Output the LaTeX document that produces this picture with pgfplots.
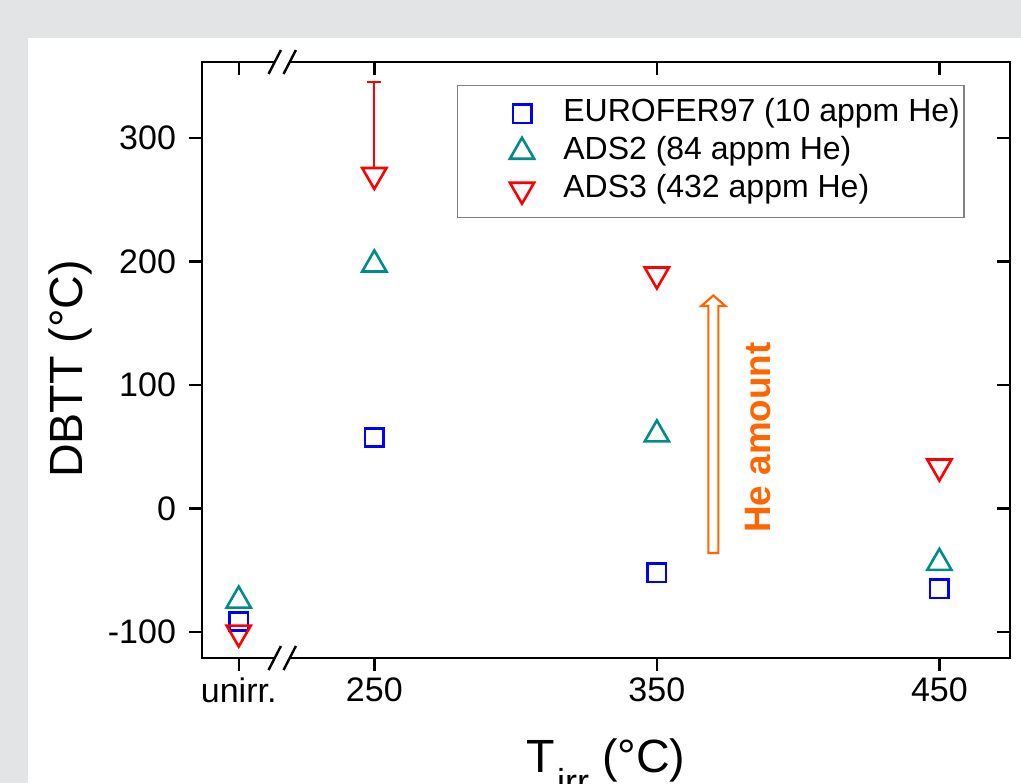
\documentclass[border=0pt]{standalone}
\usepackage{pgfplots}
\pgfplotsset{compat=1.18}
\usepackage{fontspec}
\setmainfont{Liberation Sans}
\definecolor{bggray}{RGB}{227,228,230}
\definecolor{eblue}{RGB}{0,0,255}
\definecolor{ateal}{RGB}{0,140,140}
\definecolor{ared}{RGB}{255,0,0}
\definecolor{heorange}{RGB}{255,102,0}
\definecolor{leggray}{RGB}{130,130,130}
\newcommand{\brk}[1]{%
 \fill[white] ([xshift=-4.58pt,yshift=-1.6pt]axis cs:217.4,#1) -- ([xshift=-2.92pt,yshift=1.6pt]axis cs:217.4,#1) -- ([xshift=4.58pt,yshift=1.6pt]axis cs:217.4,#1) -- ([xshift=2.92pt,yshift=-1.6pt]axis cs:217.4,#1) -- cycle;
 \draw[line width=1.2pt] ([xshift=-6.85pt,yshift=-6pt]axis cs:217.4,#1) -- ([xshift=-0.65pt,yshift=6pt]axis cs:217.4,#1);
 \draw[line width=1.2pt] ([xshift=0.65pt,yshift=-6pt]axis cs:217.4,#1) -- ([xshift=6.85pt,yshift=6pt]axis cs:217.4,#1);}
\begin{document}
\begin{tikzpicture}
\path[use as bounding box] (-101pt,-62.5pt) rectangle (409.5pt,329pt);
\clip (-101pt,-62.5pt) rectangle (409.5pt,329pt);
\fill[bggray] (-101pt,-62.5pt) rectangle (409.5pt,329pt);
\fill[white] (-87pt,-62.5pt) rectangle (409.5pt,310pt);
\begin{axis}[
  at={(0,0)}, anchor=south west,
  scale only axis, width=404pt, height=298pt,
  xmin=189, xmax=475, ymin=-121, ymax=361.5,
  axis line style={line width=1.3pt},
  major tick style={line width=1.2pt, black},
  tick align=outside, xtick pos=left, ytick pos=left,
  major tick length=6.5pt,
  xtick={202,250,350,450}, xticklabels={unirr.,250,350,450},
  ytick={-100,0,100,200,300},
  minor tick num=0,
  tick label style={font=\fontsize{17}{20}\selectfont},
  yticklabel style={xshift=-3pt},
  /pgf/number format/assume math mode=true,
  clip=false,
  legend cell align=left,
  legend style={at={(0.3156,0.9614)}, anchor=north west, draw=leggray, line width=0.7pt, fill=white,
    inner xsep=2pt, inner ysep=6pt, row sep=3pt, font=\fontsize{16}{19}\selectfont,
    nodes={inner sep=0pt, text height=12pt, text depth=4pt},
    /tikz/every even column/.append style={column sep=0pt}},
  legend image code/.code={\path (-29.5pt,0pt) (20pt,0pt); \draw[#1] plot coordinates {(0pt,0pt)};},
]
\addplot[only marks, mark=square, mark size=4.6pt, eblue, line width=1.3pt]
  coordinates {(202,-91.5) (250,57.5) (350,-52) (450,-65)};
\addlegendentry{EUROFER97 (10 appm He)}
\addplot[only marks, mark=triangle, mark size=7pt, ateal, line width=1.3pt]
  coordinates {(202,-74.5) (250,197.6) (350,60) (450,-44)};
\addlegendentry{ADS2 (84 appm He)}
\addplot[only marks, mark=triangle, mark size=7pt, mark options={rotate=180}, ared, line width=1.3pt]
  coordinates {(202,-100.4) (250,270) (350,189.5) (450,34)};
\addlegendentry{ADS3 (432 appm He)}
\addplot[ared, line width=0.85pt, forget plot, error bars/.cd, y dir=plus, y explicit,
  error mark options={rotate=90, mark size=3.5pt, line width=0.85pt, ared}, error bar style={line width=0.85pt, ared}]
  coordinates {(250,275.7) +- (0,69.6)};
% He amount arrow
\draw[heorange, line width=1.1pt, line join=miter]
  ([xshift=-2.5pt]axis cs:370,-36) -- ([xshift=-2.5pt]axis cs:370,164) -- ([xshift=-6pt]axis cs:370,164)
  -- (axis cs:370,172.5) -- ([xshift=6pt]axis cs:370,164) -- ([xshift=2.5pt]axis cs:370,164)
  -- ([xshift=2.5pt]axis cs:370,-36) -- cycle;
\node[rotate=90, anchor=base, text=heorange, font=\fontsize{18.4}{22}\selectfont\bfseries, inner sep=0pt]
  at (axis cs:390.2,57.5) {He amount};
% axis labels
\path (rel axis cs:0,0.5) ++(-59.5pt,-4.5pt) node[rotate=90, anchor=base, inner sep=0pt, font=\fontsize{23.3}{28}\selectfont] {DBTT (°C)};
\path (rel axis cs:0.5,0) ++(0pt,-57pt) node[anchor=base, inner sep=0pt, font=\fontsize{23.3}{28}\selectfont] {T\kern1pt\raisebox{-11pt}{\fontsize{18}{21}\selectfont irr} (°C)};
\end{axis}
\begin{axis}[
  at={(0,0)}, anchor=south west,
  scale only axis, width=404pt, height=298pt,
  xmin=189, xmax=475, ymin=-121, ymax=361.5,
  axis line style={draw=none},
  major tick style={line width=1.2pt, black},
  tick align=inside, xtick pos=right, ytick pos=right,
  major tick length=6.5pt,
  xtick={202,250,350,450}, ytick={-100,0,100,200,300},
  xticklabels={}, yticklabels={},
  minor tick num=0, clip=false,
]
\brk{361.5}
\brk{-121}
\end{axis}
\end{tikzpicture}
\end{document}
